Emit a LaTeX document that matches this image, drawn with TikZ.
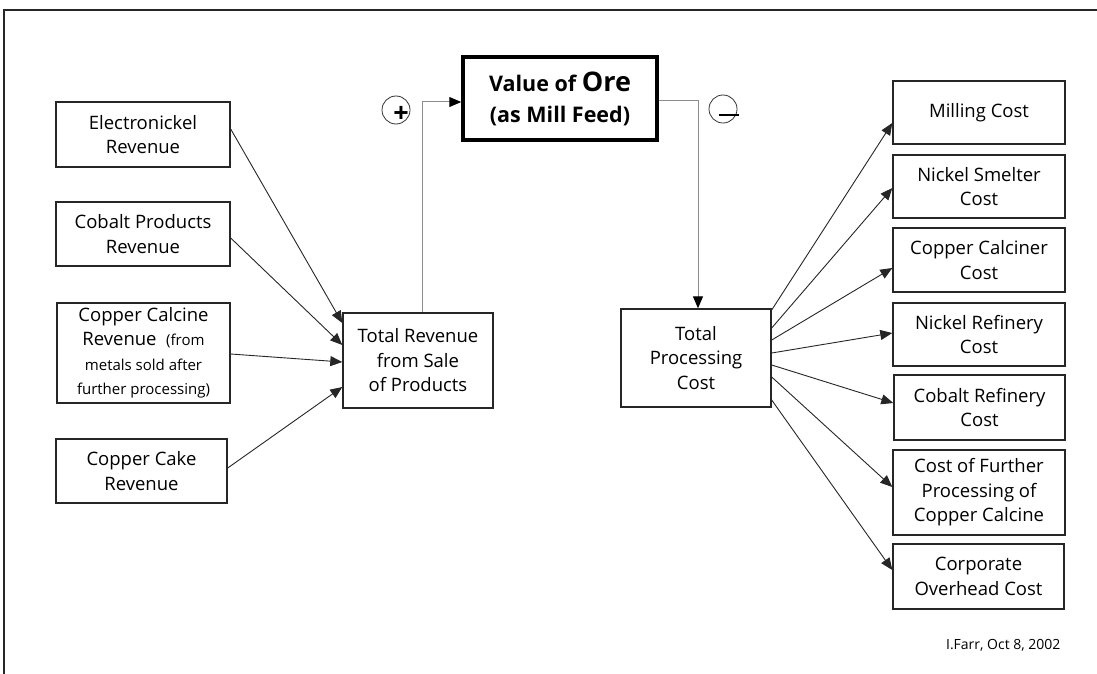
\documentclass[tikz,border=0pt]{standalone}
\usepackage{fontspec}
\setmainfont{Open Sans}
\usetikzlibrary{arrows.meta}

\begin{document}
\begin{tikzpicture}[x=1pt,y=-1pt,
    item/.style ={rectangle, draw=black!85, line width=1.4pt, align=center, inner sep=2pt, font=\fontsize{18.5}{24.5}\selectfont},
    goal/.style ={rectangle, draw, line width=3.5pt, align=center, font=\bfseries\fontsize{21.5}{31}\selectfont},
    pm/.style ={circle, draw=black!80, line width=0.8pt, minimum size=28pt, inner sep=0pt},
    flow/.style ={line width=0.9pt, black!85, -{Triangle[length=12pt,width=10pt]}},
    feedline/.style ={line width=1pt, black!45, -{Triangle[length=12pt,width=10pt,color=black]}}]
   \useasboundingbox (0,0) rectangle (1097,674);
   \draw[line width=2pt, black!85] (4,674) -- (4,10) -- (1097,10);
   % target
   \node[goal, minimum width=194pt, minimum height=83pt] (value) at (560,98.5) {Value of {\fontsize{27}{31}\selectfont Ore}\\(as Mill Feed)};
   \node[pm] (plus) at (396,110) {};
   \node[font=\bfseries\fontsize{27}{27}\selectfont, inner sep=0pt] (plustxt) at (401,114) {+};
   \node[pm] (minus) at (723,109) {};
   \node[inner sep=0pt] (minustxt) at (729,115) {\rule{20pt}{2.4pt}};
   % revenue side
   \node[item, minimum width=174pt, minimum height=65pt] (elec) at (143,134.5) {Electronickel\\Revenue};
   \node[item, minimum width=174pt, minimum height=64pt] (cob) at (143,234) {Cobalt Products\\Revenue};
   \node[item, minimum width=173pt, minimum height=100pt, inner sep=0pt] (ccal) at (143.5,353) {Copper Calcine\\Revenue~~{\fontsize{15}{21}\selectfont (from}\\{\fontsize{15}{21}\selectfont metals sold after}\\{\fontsize{15}{21}\selectfont further processing)}};
   \node[item, minimum width=171pt, minimum height=64pt] (ccake) at (141.5,471) {Copper Cake\\Revenue};
   \node[item, minimum width=150pt, minimum height=95pt] (tr) at (418,360.5) {Total Revenue\\from Sale\\of Products};
   % cost side
   \node[item, minimum width=150pt, minimum height=98pt] (tpc) at (696,358) {Total\\Processing\\Cost};
   \node[item, minimum width=172pt, minimum height=63pt] (mill) at (979,112.5) {Milling Cost};
   \node[item, minimum width=172pt, minimum height=63pt] (nsm) at (979,186.5) {Nickel Smelter\\Cost};
   \node[item, minimum width=172pt, minimum height=64pt] (ccost) at (979,260) {Copper Calciner\\Cost};
   \node[item, minimum width=172pt, minimum height=63pt] (nref) at (979,334.5) {Nickel Refinery\\Cost};
   \node[item, minimum width=171pt, minimum height=65pt] (cref) at (979.5,407.5) {Cobalt Refinery\\Cost};
   \node[item, minimum width=172pt, minimum height=85pt] (furth) at (979,492.5) {Cost of Further\\Processing of\\Copper Calcine};
   \node[item, minimum width=171pt, minimum height=65pt] (corp) at (978.5,576.5) {Corporate\\Overhead Cost};
   \node[anchor=east, font=\fontsize{14}{16}\selectfont] (sig) at (1064,645) {I.Farr, Oct 8, 2002};
   % connectors
   \draw[flow] ([yshift=5.5pt]elec.east) to ([yshift=37.5pt]tr.west);
   \draw[flow] ([yshift=-4pt]cob.east) to ([yshift=15.5pt]tr.west);
   \draw[flow] ([yshift=-1pt]ccal.east) to ([yshift=-1.5pt]tr.west);
   \draw[flow] ([yshift=3pt]ccake.east) to ([yshift=-26.5pt]tr.west);
   \draw[feedline] ([xshift=4pt]tr.north) |- ([yshift=-3.5pt]value.west);
   \draw[feedline] ([yshift=-2.5pt]value.east) -| ([xshift=2pt]tpc.north);
   \draw[flow] ([yshift=48pt]tpc.east) to ([yshift=-10.5pt]mill.west);
   \draw[flow] ([yshift=30pt]tpc.east) to ([yshift=-1.5pt]nsm.west);
   \draw[flow] ([yshift=18pt]tpc.east) to ([yshift=-8pt]ccost.west);
   \draw[flow] ([yshift=5pt]tpc.east) to ([yshift=1.5pt]nref.west);
   \draw[flow] ([yshift=-7pt]tpc.east) to ([yshift=4.5pt]cref.west);
   \draw[flow] ([yshift=-19pt]tpc.east) to ([yshift=5.5pt]furth.west);
   \draw[flow] ([yshift=-42pt]tpc.east) to ([yshift=6.5pt]corp.west);
\end{tikzpicture}
\end{document}
